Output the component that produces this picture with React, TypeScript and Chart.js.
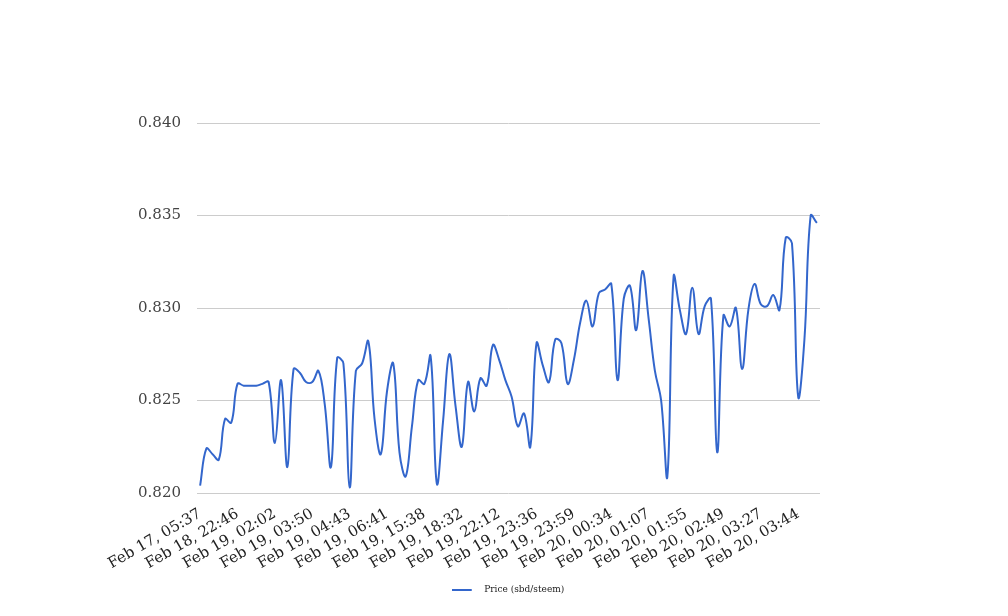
import React, { useEffect, useRef } from "react";
import { Chart, registerables } from "chart.js";

Chart.register(...registerables);

const seriesName = "Price (sbd/steem)";

const tickLabels = [
  "Feb 17, 05:37", "Feb 18, 22:46", "Feb 19, 02:02", "Feb 19, 03:50",
  "Feb 19, 04:43", "Feb 19, 06:41", "Feb 19, 15:38", "Feb 19, 18:32",
  "Feb 19, 22:12", "Feb 19, 23:36", "Feb 19, 23:59", "Feb 20, 00:34",
  "Feb 20, 01:07", "Feb 20, 01:55", "Feb 20, 02:49", "Feb 20, 03:27",
  "Feb 20, 03:44",
];

const labelEvery = 6;

const prices = [
  0.8204, 0.8224, 0.8221, 0.8218, 0.8240, 0.8238, 0.8259, 0.8258, 0.8258, 0.8258,
  0.8259, 0.8260, 0.8227, 0.8261, 0.8214, 0.8267, 0.8265, 0.8260, 0.8260, 0.8266,
  0.8248, 0.8214, 0.8273, 0.8270, 0.8203, 0.8266, 0.8270, 0.8282, 0.8240, 0.8221,
  0.8255, 0.8270, 0.8222, 0.8209, 0.8236, 0.8261, 0.8259, 0.8274, 0.8205, 0.8239,
  0.8275, 0.8247, 0.8225, 0.8260, 0.8244, 0.8262, 0.8258, 0.8280, 0.8272, 0.8261,
  0.8252, 0.8236, 0.8243, 0.8225, 0.8281, 0.8269, 0.8260, 0.8283, 0.8281, 0.8259,
  0.8272, 0.8292, 0.8304, 0.8290, 0.8308, 0.8310, 0.8313, 0.8261, 0.8305, 0.8312,
  0.8288, 0.8320, 0.8294, 0.8266, 0.8250, 0.8209, 0.8317, 0.8299, 0.8286, 0.8311,
  0.8286, 0.8301, 0.8305, 0.8222, 0.8296, 0.8290, 0.8300, 0.8267, 0.8299, 0.8313,
  0.8302, 0.8301, 0.8307, 0.8299, 0.8338, 0.8335, 0.8252, 0.8283, 0.8350, 0.8346,
];

const yMin = 0.82;
const yMax = 0.84;
const yStep = 0.005;

const categories = prices.map((_, i) =>
  i % labelEvery === 0 && tickLabels[i / labelEvery] ? tickLabels[i / labelEvery] : ""
);

function makeLegendMarker(color: string) {
  const c = document.createElement("canvas");
  c.width = 28;
  c.height = 2;
  const g = c.getContext("2d");
  if (g) {
    g.fillStyle = color;
    g.fillRect(0, 0, 20, 2);
  }
  return c;
}

export default function App() {
  const ref = useRef<HTMLCanvasElement | null>(null);

  useEffect(() => {
    if (!ref.current) return;
    const font = "'DejaVu Serif', serif";
    const lineColor = "#3366cc";
    const marker = makeLegendMarker(lineColor);
    const chart = new Chart(ref.current, {
      type: "line",
      data: {
        labels: categories,
        datasets: [
          {
            label: seriesName,
            data: prices,
            borderColor: lineColor,
            backgroundColor: lineColor,
            borderWidth: 2,
            pointRadius: 0,
            pointHoverRadius: 0,
            tension: 0.4,
            fill: false,
            yAxisID: "y",
          },
        ],
      },
      options: {
        animation: false,
        responsive: false,
        devicePixelRatio: 1,
        layout: { padding: { left: 8, right: 0, top: 123, bottom: 12 } },
        plugins: {
          tooltip: { enabled: false },
          legend: {
            position: "bottom",
            labels: {
              usePointStyle: true,
              pointStyle: marker as any,
              pointStyleWidth: 28,
              color: "#222222",
              padding: 10,
              font: { family: font, size: 9 },
            },
          },
        },
        scales: {
          x: {
            offset: true,
            grid: { display: false },
            border: { display: false },
            afterFit: (s: any) => {
              s.height = 82;
            },
            ticks: {
              autoSkip: false,
              maxRotation: 30,
              minRotation: 30,
              padding: 4,
              color: "#222222",
              font: { family: font, size: 15 },
              callback: (_v: any, i: number) => categories[i],
            },
          },
          y: {
            position: "left",
            min: yMin,
            max: yMax,
            border: { display: false },
            grid: { color: "#cccccc", drawTicks: false },
            afterFit: (s: any) => {
              s.width = 189;
            },
            ticks: {
              stepSize: yStep,
              padding: 16,
              color: "#444444",
              font: { family: font, size: 15 },
              callback: (v: any) => Number(v).toFixed(3),
            },
          },
          yRight: {
            position: "right",
            min: yMin,
            max: yMax,
            border: { display: false },
            grid: { display: false, drawTicks: false },
            ticks: { display: false },
            afterFit: (s: any) => {
              s.width = 188;
            },
          },
        },
      },
    });
    return () => chart.destroy();
  }, []);

  return (
    <div style={{ position: "absolute", left: 0, top: 0, width: 1008, height: 616, background: "#fff" }}>
      <canvas ref={ref} width={1008} height={616} />
    </div>
  );
}
